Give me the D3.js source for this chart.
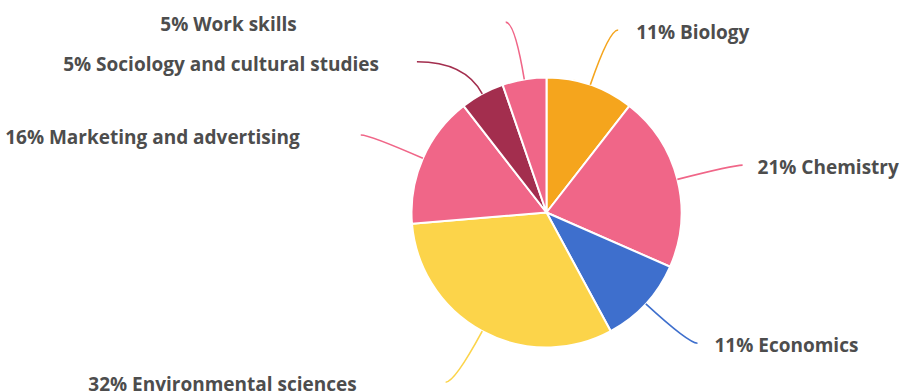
<!DOCTYPE html>
<html>
<head>
<meta charset="utf-8">
<script src="https://cdn.jsdelivr.net/npm/d3@7"></script>
<style>
  html, body { margin: 0; padding: 0; background: #ffffff; }
  svg { display: block; }
  .label { font-family: "Open Sans", "Noto Sans", sans-serif; font-weight: 700; font-size: 19px; fill: #4d4d4d; }
</style>
</head>
<body>
<svg id="chart" width="902" height="392"></svg>
<script>
// Course subjects and the number of entries in each
const categories = [
  "Biology",
  "Chemistry",
  "Economics",
  "Environmental sciences",
  "Marketing and advertising",
  "Sociology and cultural studies",
  "Work skills"
];
const counts = [2, 4, 2, 6, 3, 1, 1];
const colors = ["#f5a51d", "#f06688", "#3e6fcd", "#fcd44a", "#f06688", "#a32e4e", "#f06688"];

// Leader-line / label layout tweaks (pixels)
const labelGap = [18, 15, 17, 89, 61, 38, 209];     // space between line end and text
const leaderShift = [[0, 0], [0, 0], [0, 0], [0, 0], [0, 0], [-39, 19], [0, 0]];

const width = 902, height = 392;
const cx = 546.5, cy = 212.5;
const radius = 135;
const elbow = 193;

const svg = d3.select("#chart");
const g = svg.append("g").attr("transform", `translate(${cx},${cy})`);

const total = d3.sum(counts);
const pct = counts.map(v => Math.round(v / total * 100));

const pie = d3.pie().sort(null).value(d => d)(counts);
const arc = d3.arc().innerRadius(0).outerRadius(radius);

g.selectAll("path.slice")
  .data(pie)
  .join("path")
  .attr("class", "slice")
  .attr("d", arc)
  .attr("fill", (d, i) => colors[i])
  .attr("stroke", "#ffffff")
  .attr("stroke-width", 2)
  .attr("stroke-linejoin", "round");

// Curved leader lines: leave the rim radially, then turn flat toward the label
const leaders = pie.map((d, i) => {
  const mid = (d.startAngle + d.endAngle) / 2;
  const sx = Math.sin(mid), sy = -Math.cos(mid);
  const side = sx >= 0 ? 1 : -1;
  const p0 = [sx * radius, sy * radius];
  const yL = sy * elbow + leaderShift[i][1];
  const t = yL / sy;
  const c = [sx * t, yL];
  const p2 = [c[0] + side * 9 + leaderShift[i][0], yL];
  return { i, side, p0, c, p2 };
});

g.selectAll("path.leader")
  .data(leaders)
  .join("path")
  .attr("class", "leader")
  .attr("fill", "none")
  .attr("stroke", d => colors[d.i])
  .attr("stroke-width", 1.6)
  .attr("d", d => {
    const p = d3.path();
    p.moveTo(d.p0[0], d.p0[1]);
    p.quadraticCurveTo(d.c[0], d.c[1], d.p2[0], d.p2[1]);
    return p.toString();
  });

g.selectAll("text.label")
  .data(leaders)
  .join("text")
  .attr("class", "label")
  .attr("x", d => d.p2[0] + d.side * labelGap[d.i])
  .attr("y", d => d.p2[1] + 9)
  .attr("text-anchor", d => d.side > 0 ? "start" : "end")
  .text(d => `${pct[d.i]}% ${categories[d.i]}`);
</script>
</body>
</html>
